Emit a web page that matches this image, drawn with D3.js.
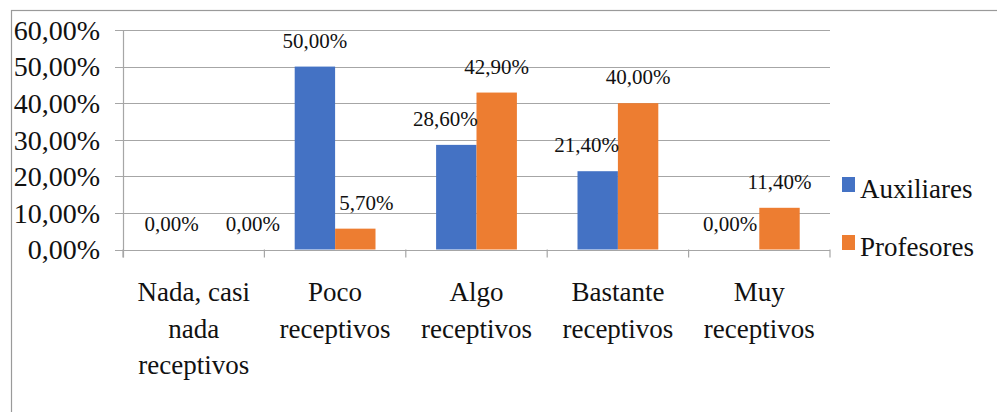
<!DOCTYPE html>
<html>
<head>
<meta charset="utf-8">
<script src="https://cdn.jsdelivr.net/npm/d3@7"></script>
<style>
  body { margin: 0; background: #fff; }
</style>
</head>
<body>
<svg id="chart" width="997" height="412"></svg>
<script>
// data
const categories = [
  ["Nada, casi", "nada", "receptivos"],
  ["Poco", "receptivos"],
  ["Algo", "receptivos"],
  ["Bastante", "receptivos"],
  ["Muy", "receptivos"]
];
const seriesNames = ["Auxiliares", "Profesores"];
const auxiliares = [0, 50.0, 28.6, 21.4, 0];
const profesores = [0, 5.7, 42.9, 40.0, 11.4];
const yTicks = [0, 10, 20, 30, 40, 50, 60];

// label nudges (px) as they sit in the original
const labelDx = [[-2, 39], [0, 11], [-11, 0], [-11, 0], [-9, 0]];

const colors = ["#4472C4", "#ED7D31"];
const FONT = "Liberation Serif";
const INK = "#111";
const svg = d3.select("#chart");

// outer frame (runs off the right and bottom of the picture)
svg.append("rect")
  .attr("x", 11.5).attr("y", 10.5)
  .attr("width", 1000).attr("height", 500)
  .attr("fill", "none").attr("stroke", "#9a9a9a").attr("stroke-width", 1.2);

const plotL = 123, plotR = 830, plotT = 30, plotB = 249.5;

const x = d3.scaleBand()
  .domain(d3.range(categories.length))
  .range([plotL, plotR])
  .paddingInner(0).paddingOuter(0);
const x1 = d3.scaleBand()
  .domain(d3.range(seriesNames.length))
  .range([0, x.bandwidth()])
  .paddingInner(0).paddingOuter(0.75);
const y = d3.scaleLinear().domain([0, 60]).range([plotB, plotT]);

const fmt = v => d3.format(".2f")(v).replace(".", ",") + "%";

// grid lines + left ticks
svg.append("g").selectAll("line")
  .data(yTicks)
  .join("line")
  .attr("x1", plotL - 8).attr("x2", plotR)
  .attr("y1", d => Math.round(y(d)) + 0.5).attr("y2", d => Math.round(y(d)) + 0.5)
  .attr("stroke", "#a6a6a6").attr("stroke-width", 1.2);

// y axis line
svg.append("line")
  .attr("x1", plotL + 0.5).attr("x2", plotL + 0.5)
  .attr("y1", plotT).attr("y2", plotB + 8)
  .attr("stroke", "#a6a6a6").attr("stroke-width", 1.2);

// category ticks
svg.append("g").selectAll("line")
  .data(d3.range(categories.length + 1))
  .join("line")
  .attr("x1", i => i < categories.length ? x(i) : plotR)
  .attr("x2", i => i < categories.length ? x(i) : plotR)
  .attr("y1", plotB).attr("y2", plotB + 8)
  .attr("stroke", "#a6a6a6").attr("stroke-width", 1.2);

// y tick labels
svg.append("g").selectAll("text")
  .data(yTicks)
  .join("text")
  .attr("x", 100)
  .attr("y", d => y(d))
  .attr("dy", "0.35em")
  .attr("text-anchor", "end")
  .attr("font-family", FONT).attr("fill", INK)
  .attr("font-size", 28)
  .text(d => fmt(d));

// bars
const series = [auxiliares, profesores];
const groups = svg.append("g").selectAll("g")
  .data(series)
  .join("g")
  .attr("fill", (d, s) => colors[s]);

groups.selectAll("rect")
  .data((vals, s) => vals.map((v, i) => ({ v, i, s })))
  .join("rect")
  .attr("x", d => x(d.i) + x1(d.s))
  .attr("width", x1.bandwidth())
  .attr("y", d => y(d.v))
  .attr("height", d => plotB - y(d.v));

// value labels
svg.append("g").selectAll("text")
  .data(series.flatMap((vals, s) => vals.map((v, i) => ({ v, i, s }))))
  .join("text")
  .attr("x", d => x(d.i) + x1(d.s) + x1.bandwidth() / 2 + labelDx[d.i][d.s])
  .attr("y", d => y(d.v) - 19)
  .attr("text-anchor", "middle")
  .attr("font-family", FONT).attr("fill", INK)
  .attr("font-size", 21)
  .text(d => fmt(d.v));

// category labels
svg.append("g").selectAll("text")
  .data(categories)
  .join("text")
  .attr("x", (d, i) => x(i) + x.bandwidth() / 2)
  .attr("y", 301)
  .attr("text-anchor", "middle")
  .attr("font-family", FONT).attr("fill", INK)
  .attr("font-size", 27)
  .selectAll("tspan")
  .data(d => d)
  .join("tspan")
  .attr("x", function () { return this.parentNode.getAttribute("x"); })
  .attr("dy", (d, j) => j === 0 ? 0 : 36.5)
  .text(d => d);

// legend
const legend = svg.append("g").selectAll("g")
  .data(seriesNames)
  .join("g")
  .attr("transform", (d, i) => `translate(842, ${177 + i * 58})`);
legend.append("rect")
  .attr("width", 13).attr("height", 15)
  .attr("fill", (d, i) => colors[i]);
legend.append("text")
  .attr("x", 18).attr("y", 21)
  .attr("font-family", FONT).attr("fill", INK)
  .attr("font-size", 27)
  .text(d => d);
</script>
</body>
</html>
